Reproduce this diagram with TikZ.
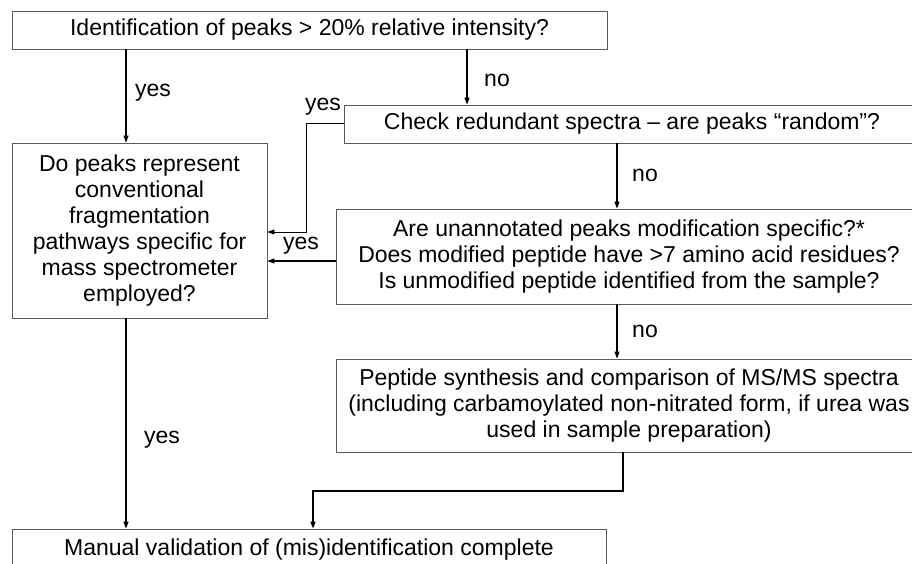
\documentclass[tikz,border=0pt]{standalone}
\usepackage{fontspec}
\setmainfont{Liberation Sans}
\usetikzlibrary{arrows.meta}
\begin{document}
\begin{tikzpicture}[x=1pt,y=-1pt,
  box/.style={draw=black!65, line width=0.8pt, fill=white, align=center, inner sep=0pt,
    font=\fontsize{23}{26}\selectfont},
  lbl/.style={font=\fontsize{23}{26}\selectfont, inner sep=0pt},
  arr/.style={draw=black, line width=1.2pt, -{Triangle[length=7pt,width=5pt]}},
  thinarr/.style={draw=black!60, line width=0.8pt, -{Triangle[length=7pt,width=5pt]}, black}
]
\clip (0,0) rectangle (912,563);
\fill[white] (0,0) rectangle (912,563);

\node[box, minimum width=595pt, minimum height=38pt] (b1) at (309.5,30)
  {Identification of peaks > 20\% relative intensity?};
\node[box, minimum width=576pt, minimum height=38pt] (b2) at (632,124)
  {Check redundant spectra – are peaks “random”?};
\node[box, minimum width=255pt, minimum height=175pt] (b3) at (139.5,230.5)
  {Do peaks represent\\conventional\\fragmentation\\pathways specific for\\mass spectrometer\\employed?};
\node[box, minimum width=586pt, minimum height=95pt] (b4) at (629,256.5)
  {Are unannotated peaks modification specific?*\\Does modified peptide have >7 amino acid residues?\\Is unmodified peptide identified from the sample?};
\node[box, minimum width=586pt, minimum height=93pt] (b5) at (629,405.5)
  {Peptide synthesis and comparison of MS/MS spectra\\(including carbamoylated non-nitrated form, if urea was\\used in sample preparation)};
\node[box, minimum width=594pt, minimum height=42pt] (b6) at (309,550)
  {Manual validation of (mis)identification complete};

\coordinate (xa) at (126,0);
\coordinate (xb) at (467,0);
\coordinate (xc) at (617,0);
\coordinate (xd) at (623,0);
\coordinate (xe) at (313,0);
\coordinate (xf) at (306,0);
\coordinate (ya) at (0,232);
\coordinate (yb) at (0,491);

\draw[arr] (xa |- b1.south) -- (xa |- b3.north);
\draw[arr] (xb |- b1.south) -- (xb |- b2.north);
\draw[thinarr] ([yshift=1pt]b2.west) -| (xf |- ya) -- (b3.east |- ya);
\draw[arr] ([yshift=-4.5pt]b4.west) -- ([yshift=-4.5pt]b4.west -| b3.east);
\draw[arr] (xc |- b2.south) -- (xc |- b4.north);
\draw[arr] (xc |- b4.south) -- (xc |- b5.north);
\draw[arr, line width=1.5pt] (xd |- b5.south) -- (xd |- yb) -- (xe |- yb) -- (xe |- b6.north);
\draw[arr] (xa |- b3.south) -- (xa |- b6.north);

\node[lbl] (l1) at (153,93) {yes};
\node[lbl] (l2) at (497,80) {no};
\node[lbl] (l3) at (323,107) {yes};
\node[lbl] (l4) at (645,175) {no};
\node[lbl] (l5) at (301,246) {yes};
\node[lbl] (l6) at (645,331) {no};
\node[lbl] (l7) at (162,440) {yes};
\end{tikzpicture}
\end{document}
